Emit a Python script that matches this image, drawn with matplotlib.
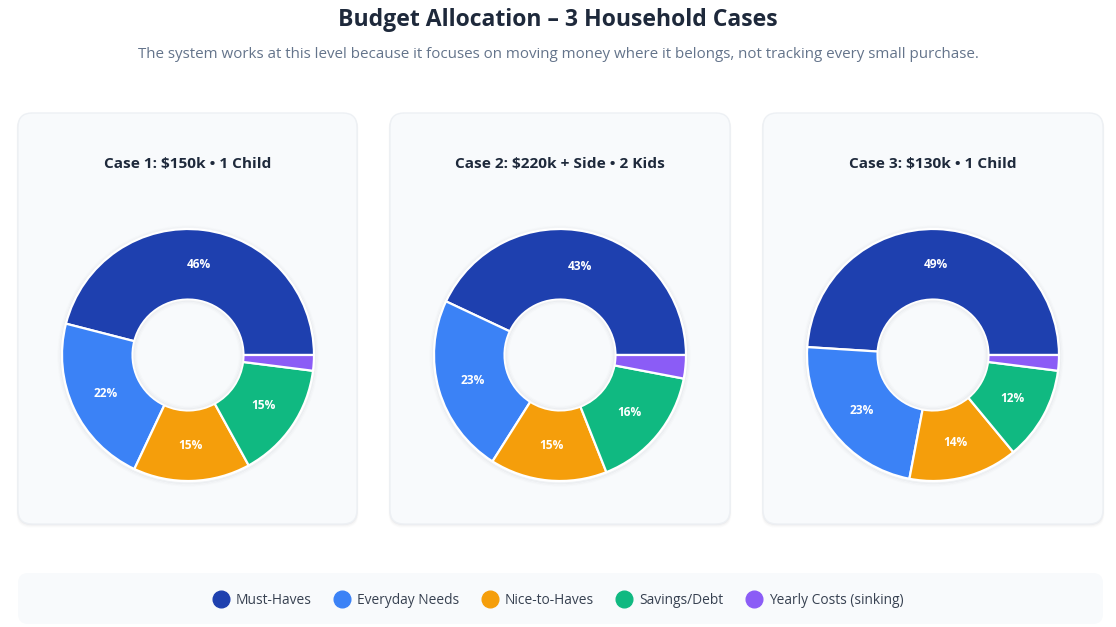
import matplotlib
matplotlib.use("Agg")
import matplotlib.pyplot as plt
from matplotlib.patches import FancyBboxPatch, Circle
from matplotlib.lines import Line2D

plt.rcParams['font.family'] = ['Open Sans', 'DejaVu Sans']

categories = ["Must-Haves", "Everyday Needs", "Nice-to-Haves", "Savings/Debt", "Yearly Costs (sinking)"]
colors = ["#1e40af", "#3b82f6", "#f59e0b", "#10b981", "#8b5cf6"]
case_titles = ["Case 1: $150k • 1 Child", "Case 2: $220k + Side • 2 Kids", "Case 3: $130k • 1 Child"]
case1 = [46, 22, 15, 15, 2]
case2 = [43, 23, 15, 16, 3]
case3 = [49, 23, 14, 12, 2]
cases = [case1, case2, case3]

W, H = 1116, 627
fig = plt.figure(figsize=(W / 100, H / 100), dpi=100)
fig.patch.set_facecolor("white")

bg = fig.add_axes([0, 0, 1, 1])
bg.set_xlim(0, W)
bg.set_ylim(H, 0)
bg.axis("off")

def card(x0, y0, x1, y1, r=14):
    for i, a in enumerate([0.035, 0.025, 0.015]):
        d = i + 1
        sh = FancyBboxPatch((x0 - d * 0.5, y0 + d * 0.6), x1 - x0 + d, y1 - y0 + d * 0.6,
                            boxstyle=f"round,pad=0,rounding_size={r}",
                            facecolor="#0f172a", edgecolor="none", alpha=a, zorder=1)
        bg.add_patch(sh)
    p = FancyBboxPatch((x0, y0), x1 - x0, y1 - y0,
                       boxstyle=f"round,pad=0,rounding_size={r}",
                       facecolor="#f8fafc", edgecolor="#edf0f4", linewidth=1.0, zorder=2)
    bg.add_patch(p)

card_x = [(18, 357), (390, 730), (763, 1103)]
for (x0, x1) in card_x:
    card(x0, 113, x1, 524)

lb = FancyBboxPatch((18, 573), 1085, 51, boxstyle="round,pad=0,rounding_size=10",
                    facecolor="#f8fafc", edgecolor="none", zorder=2)
bg.add_patch(lb)

bg.text(W / 2, 20, "Budget Allocation – 3 Household Cases", ha="center", va="center",
        fontsize=16.6, fontweight="bold", color="#1e293b", zorder=5)
bg.text(W / 2, 55, "The system works at this level because it focuses on moving money where it belongs, not tracking every small purchase.",
        ha="center", va="center", fontsize=10.9, color="#64748b", zorder=5)

R = 126.0
size = 300.0
centers = [188, 560, 933]
cy = 355
for i, (vals, title, cx) in enumerate(zip(cases, case_titles, centers)):
    bg.text(cx, 164, title, ha="center", va="center", fontsize=11.1,
            fontweight="bold", color="#1e293b", zorder=5)
    ax = fig.add_axes([(cx - size / 2) / W, 1 - (cy + size / 2) / H, size / W, size / H])
    wedges, texts, autotexts = ax.pie(
        vals, colors=colors, startangle=0, counterclock=True, radius=1.0,
        wedgeprops=dict(width=0.56, edgecolor="white", linewidth=1.6),
        autopct=lambda p: f"{p:.0f}%" if p >= 5 else "", pctdistance=0.72,
        textprops=dict(color="white", fontsize=8.6, fontweight="bold"))
    for w in wedges:
        w.set_zorder(2)
    for t in autotexts:
        t.set_zorder(4)
    for k, a in enumerate([0.04, 0.025, 0.012]):
        ax.add_patch(Circle((0, -0.008), 1.0 + 0.01 * (k + 1), facecolor="none",
                            edgecolor="#0f172a", linewidth=1.2, alpha=a, zorder=1))
        ax.add_patch(Circle((0, 0.0), 0.44 - 0.01 * (k + 1), facecolor="none",
                            edgecolor="#0f172a", linewidth=1.2, alpha=a, zorder=3))
    lim = size / 2 / R
    ax.set_xlim(-lim, lim)
    ax.set_ylim(-lim, lim)
    ax.set_aspect("equal")
    ax.axis("off")

handles = [Line2D([0], [0], marker="o", linestyle="none", markersize=12,
                  markerfacecolor=c, markeredgecolor=c) for c in colors]
fig.legend(handles, categories, loc="center", bbox_to_anchor=(0.5, 1 - 600 / H),
           ncol=5, frameon=False, fontsize=9.9, labelcolor="#374151",
           handletextpad=0.5, columnspacing=1.6, handlelength=1.2)

fig.savefig("out.png", dpi=100, facecolor="white")
